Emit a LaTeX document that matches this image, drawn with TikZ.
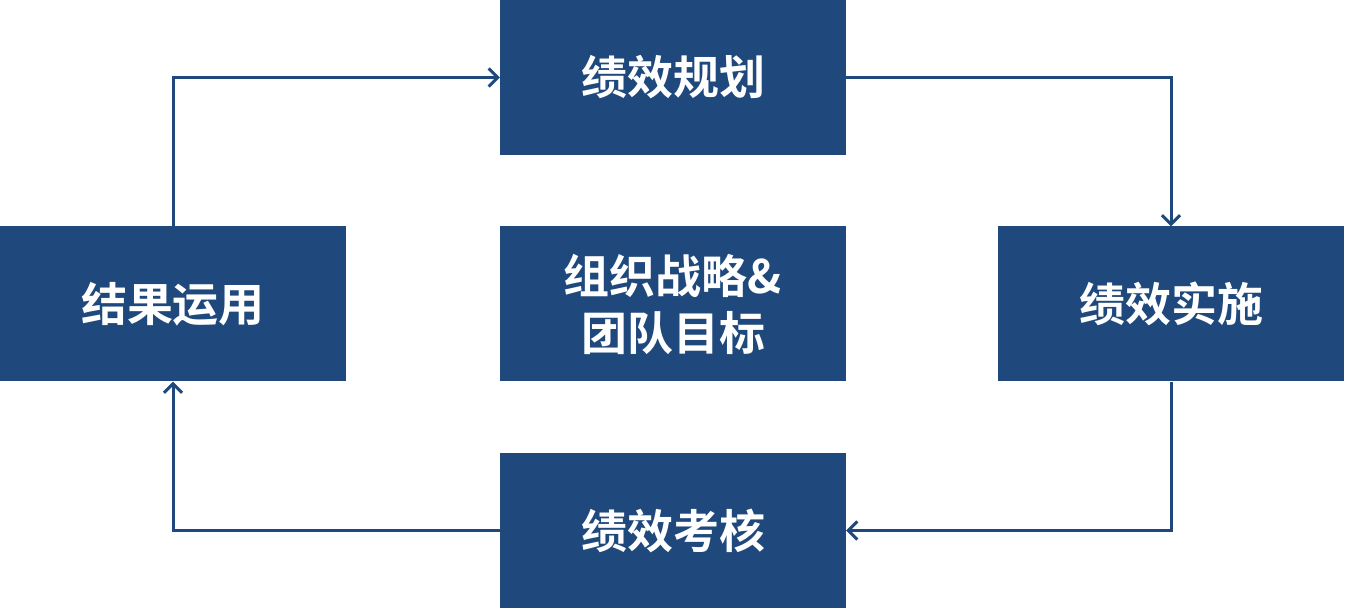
\documentclass[tikz,border=0pt]{standalone}
\usepackage{fontspec}
\newfontfamily\cjk{Noto Sans CJK SC Bold}
\usetikzlibrary{arrows.meta}
\definecolor{boxblue}{RGB}{31,73,125}
\begin{document}
\begin{tikzpicture}[x=1pt,y=-1pt,
  box/.style={fill=boxblue,minimum width=346pt,minimum height=155pt,inner sep=0pt,text=white,font=\cjk\fontsize{46}{57}\selectfont,align=center},
  conn/.style={draw=boxblue,line width=3pt,-{Straight Barb[length=9pt,width=18pt,line width=3pt]}}]
\useasboundingbox (0,0) rectangle (1345,609);
\node[box] (plan) at (673,77.5) {绩效规划};
\node[box] (use) at (173,304) {结果运用};
\node[box] (goal) at (673,304) {组织战略\&\\团队目标};
\node[box] (do) at (1171,304) {绩效实施};
\node[box] (eval) at (673,530.5) {绩效考核};
\draw[conn] (use.north) |- (plan.west);
\draw[conn] (plan.east) -| (do.north);
\draw[conn] (do.south) |- (eval.east);
\draw[conn] (eval.west) -| (use.south);
\end{tikzpicture}
\end{document}
